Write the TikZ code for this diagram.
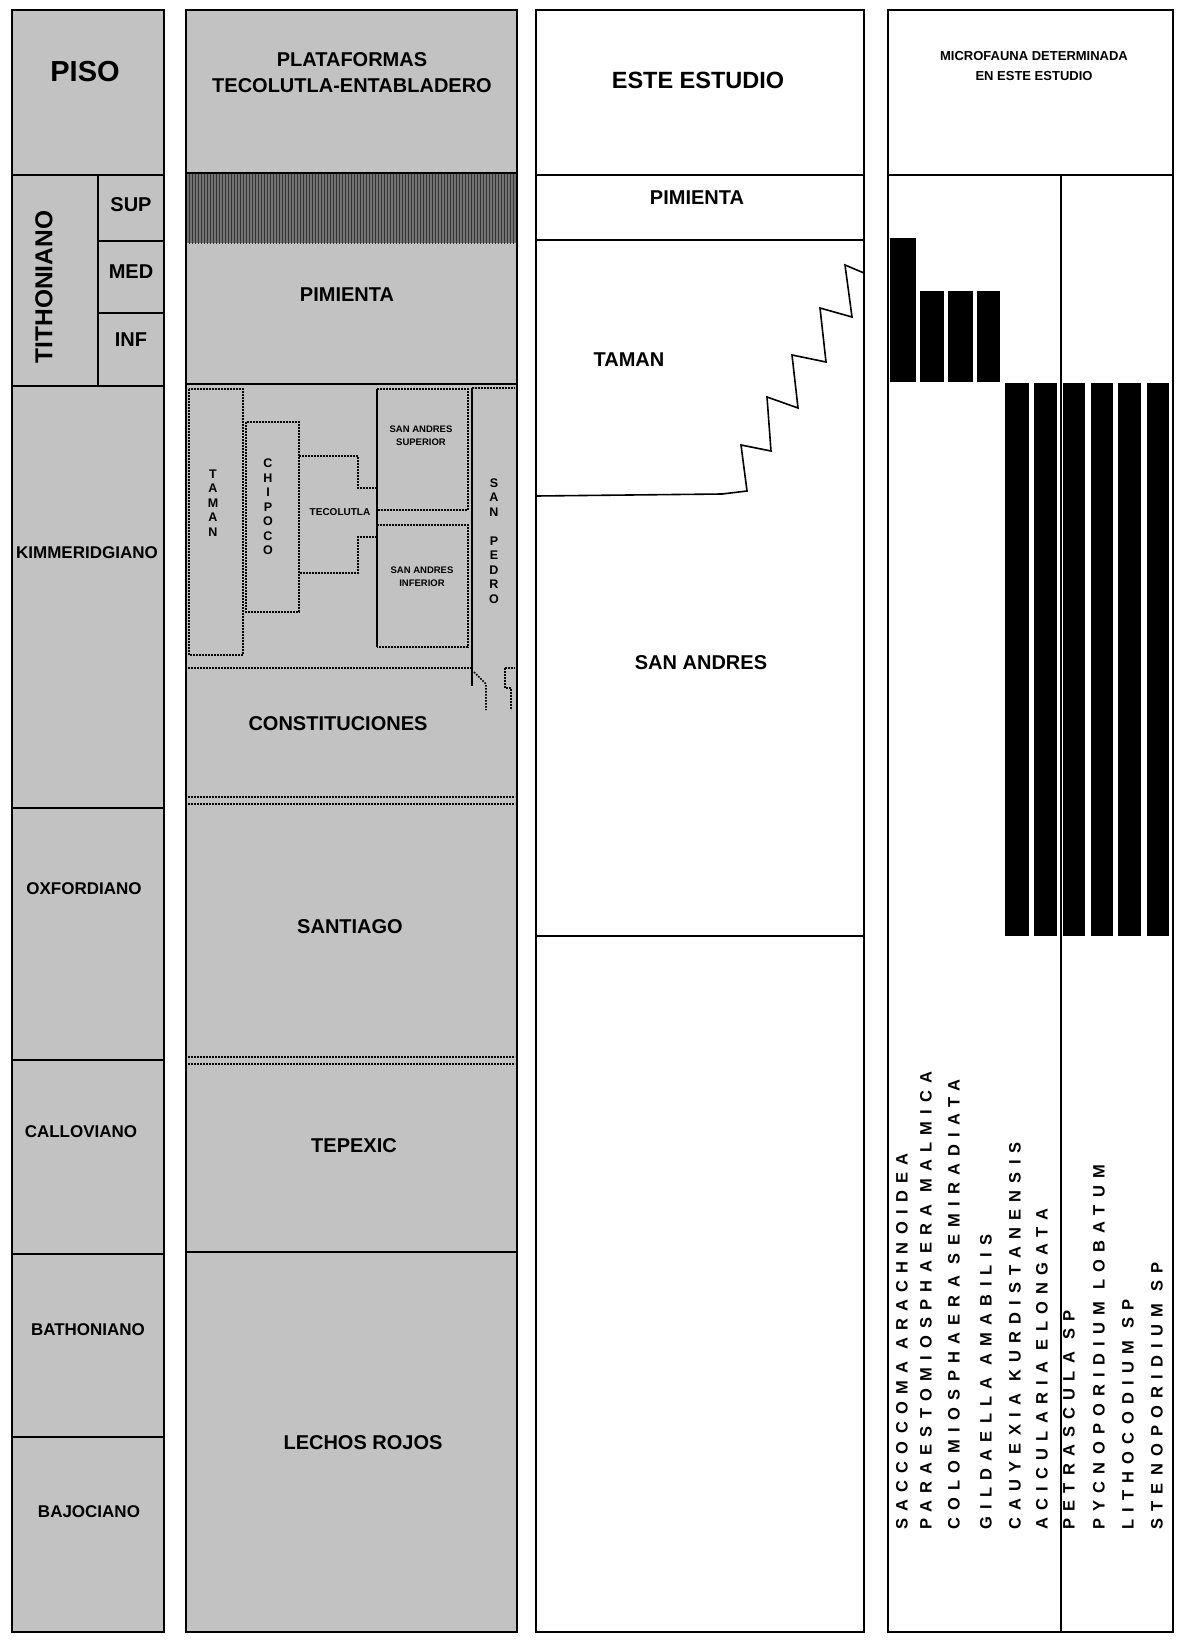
\documentclass[tikz,border=0pt]{standalone}
\usepackage{fontspec}
\setmainfont{Liberation Sans}
\newfontfamily\taxafont[LetterSpace=44]{Liberation Sans Bold}
\usetikzlibrary{patterns}

\begin{document}
\begin{tikzpicture}[
    x=1pt, y=-1pt,
    halftone/.style={fill=black!24},
    frame/.style={draw=black, line width=2.4pt},
    thinframe/.style={draw=black, line width=1.6pt},
    dotbound/.style={draw=black, line width=1.6pt, dash pattern=on 1.6pt off 1.4pt},
    unit/.style={font=\bfseries\fontsize{20}{26}\selectfont, align=center, inner sep=0pt},
    stage/.style={font=\bfseries\fontsize{17}{20}\selectfont, inner sep=0pt},
    substage/.style={font=\bfseries\fontsize{20}{22}\selectfont, inner sep=0pt},
    minor/.style={font=\bfseries\fontsize{9.5}{13}\selectfont, align=center, inner sep=0pt},
    stack/.style={font=\bfseries\fontsize{12.5}{14.5}\selectfont, align=center, inner sep=0pt},
    taxon/.style={font=\taxafont\fontsize{16.5}{18}\selectfont, rotate=90, anchor=west, inner sep=0pt},
    bar/.style={fill=black},
]

% Page size
\useasboundingbox (0,0) rectangle (1176,1640);

% Top and bottom of all columns
\def\ytop{10}
\def\ybot{1632}

% Column 1: PISO
\fill[halftone] (12,\ytop) rectangle (164,\ybot);
\draw[frame] (12,\ytop) rectangle (164,\ybot);
\draw[frame] (12,175) -- (164,175);
\draw[frame] (12,386) -- (164,386);
\draw[frame] (12,808) -- (164,808);
\draw[frame] (12,1060) -- (164,1060);
\draw[frame] (12,1254) -- (164,1254);
\draw[frame] (12,1437) -- (164,1437);
\draw[frame] (98,175) -- (98,386);
\draw[frame] (98,241) -- (164,241);
\draw[frame] (98,313) -- (164,313);

\node[font=\bfseries\fontsize{29}{32}\selectfont, inner sep=0pt] (piso) at (85,72) {PISO};
\node[font=\bfseries\fontsize{24.5}{26}\selectfont, inner sep=0pt, rotate=90] (tithon) at (44,287) {TITHONIANO};
\node[substage] (sup) at (131,205) {SUP};
\node[substage] (med) at (131,272) {MED};
\node[substage] (inf) at (131,340) {INF};
\node[stage] (kimm) at (87,553) {KIMMERIDGIANO};
\node[stage] (oxf) at (84,889) {OXFORDIANO};
\node[stage] (call) at (81,1132) {CALLOVIANO};
\node[stage] (bath) at (88,1330) {BATHONIANO};
\node[stage] (bajo) at (89,1512) {BAJOCIANO};

% Column 2: plataformas
\fill[halftone] (186,\ytop) rectangle (517,\ybot);
\fill[black!55] (186,173) rectangle (517,243);
\fill[pattern=vertical lines, pattern color=black!80] (186,173) rectangle (517,243);
\draw[frame] (186,\ytop) rectangle (517,\ybot);
\draw[frame] (186,173) -- (517,173);
\draw[frame] (186,384) -- (517,384);
\draw[frame] (186,1252) -- (517,1252);
\draw[dotbound] (188,797) -- (515,797);
\draw[dotbound] (188,804) -- (515,804);
\draw[dotbound] (188,1057) -- (515,1057);
\draw[dotbound] (188,1064) -- (515,1064);

% Kimmeridgian interfingering units
\draw[dotbound] (189,389) rectangle (243,655);
\draw[dotbound] (246,422) rectangle (299,612);
\draw[dotbound] (299,456) -- (358,456) -- (358,488) -- (377,488);
\draw[dotbound] (377,537) -- (358,537) -- (358,573) -- (299,573);
\draw[dotbound] (377,389) -- (468,389) -- (468,510) -- (377,510);
\draw[dotbound] (377,525) -- (468,525) -- (468,647) -- (377,647);
\draw[thinframe] (377,389) -- (377,647);
\draw[thinframe] (472,388) -- (472,686);
\draw[dotbound] (472,388) -- (515,388);
\draw[dotbound] (188,668) -- (472,668);
\draw[dotbound] (474,672) -- (486,684) -- (486,710);
\draw[dotbound] (505,668) -- (515,668);
\draw[dotbound] (505,668) -- (505,688) -- (511,688) -- (511,710);

\node[unit] (plat) at (352,73) {PLATAFORMAS\\TECOLUTLA-ENTABLADERO};
\node[unit] (pimA) at (347,295) {PIMIENTA};
\node[stack] (tamanA) at (213,503) {T\\A\\M\\A\\N};
\node[stack] (chipoco) at (268,507) {C\\H\\I\\P\\O\\C\\O};
\node[font=\bfseries\fontsize{10}{12}\selectfont, inner sep=0pt] (tecol) at (340,512) {TECOLUTLA};
\node[minor] (sasup) at (421,436) {SAN ANDRES\\SUPERIOR};
\node[minor] (sainf) at (422,577) {SAN ANDRES\\INFERIOR};
\node[stack] (sanpedro) at (494,541) {S\\A\\N\\\mbox{}\\P\\E\\D\\R\\O};
\node[unit] (consti) at (338,724) {CONSTITUCIONES};
\node[unit] (santi) at (350,927) {SANTIAGO};
\node[unit] (tepex) at (354,1146) {TEPEXIC};
\node[unit] (lechos) at (363,1443) {LECHOS ROJOS};

% Column 3: este estudio
\draw[thinframe] (536,\ytop) rectangle (864,\ybot);
\draw[thinframe] (536,175) -- (864,175);
\draw[thinframe] (536,240) -- (864,240);
\draw[thinframe] (536,936) -- (864,936);
\draw[thinframe] (536,496) -- (722,494) -- (747,491) -- (741,445) -- (771,451)
    -- (767,397) -- (798,408) -- (792,355) -- (826,362) -- (820,308)
    -- (852,317) -- (845,265) -- (864,273);

\node[font=\bfseries\fontsize{23.5}{26}\selectfont, inner sep=0pt] (este) at (698,80) {ESTE ESTUDIO};
\node[unit] (pimB) at (697,198) {PIMIENTA};
\node[unit] (tamanB) at (629,360) {TAMAN};
\node[unit] (sanand) at (701,663) {SAN ANDRES};

% Column 4: microfauna
\draw[thinframe] (888,\ytop) rectangle (1173,\ybot);
\draw[thinframe] (888,175) -- (1173,175);
\draw[thinframe] (1061,175) -- (1061,\ybot);

\node[font=\bfseries\fontsize{13}{20}\selectfont, align=center, inner sep=0pt] (micro) at (1034,66) {MICROFAUNA DETERMINADA\\EN ESTE ESTUDIO};

% Ranges
\fill[bar] (890,238) rectangle (916,382);
\fill[bar] (920,291) rectangle (944,382);
\fill[bar] (948,291) rectangle (973,382);
\fill[bar] (977,291) rectangle (1000,382);
\fill[bar] (1005,383) rectangle (1029,936);
\fill[bar] (1034,383) rectangle (1057,936);
\fill[bar] (1063,383) rectangle (1085,936);
\fill[bar] (1091,383) rectangle (1113,936);
\fill[bar] (1118,383) rectangle (1141,936);
\fill[bar] (1147,383) rectangle (1169,936);

% Species names
\node[taxon] (sacco) at (902,1530) {SACCOCOMA ARACHNOIDEA};
\node[taxon] (parae) at (926,1530) {PARAESTOMIOSPHAERA MALMICA};
\node[taxon] (colom) at (954,1530) {COLOMIOSPHAERA SEMIRADIATA};
\node[taxon] (gilda) at (986,1530) {GILDAELLA AMABILIS};
\node[taxon] (cauye) at (1015,1530) {CAUYEXIA KURDISTANENSIS};
\node[taxon] (acicu) at (1042,1530) {ACICULARIA ELONGATA};
\node[taxon] (petra) at (1069,1530) {PETRASCULA SP};
\node[taxon] (pycno) at (1099,1530) {PYCNOPORIDIUM LOBATUM};
\node[taxon] (litho) at (1128,1530) {LITHOCODIUM SP};
\node[taxon] (steno) at (1157,1530) {STENOPORIDIUM SP};

\end{tikzpicture}
\end{document}
